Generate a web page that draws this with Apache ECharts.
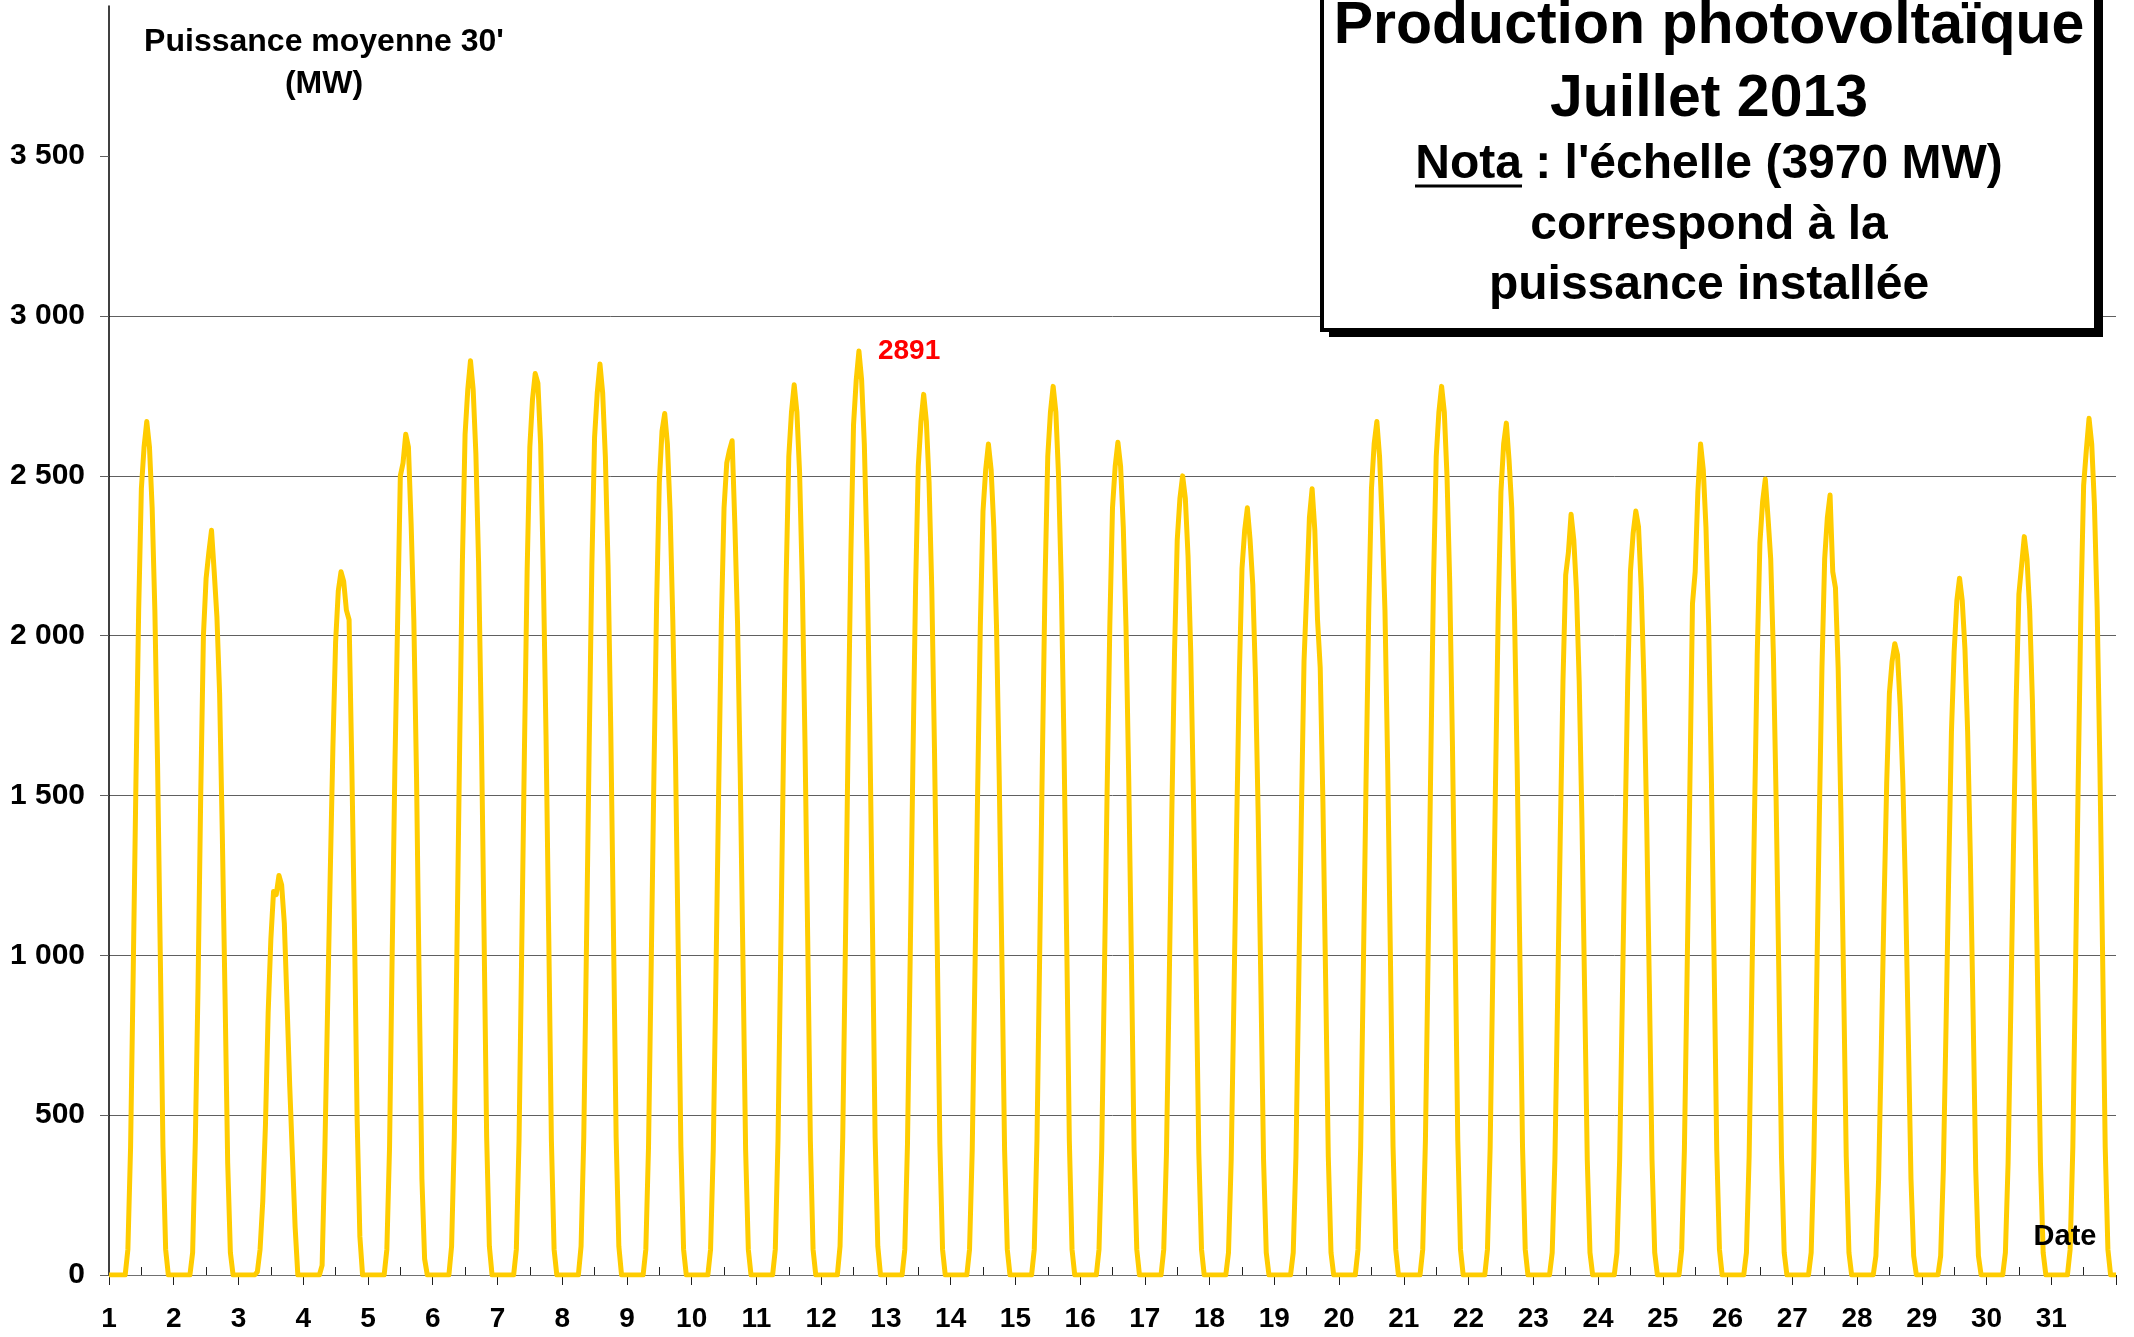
<!DOCTYPE html>
<html>
<head>
<meta charset="utf-8">
<title>Production photovoltaïque - Juillet 2013</title>
<script src="https://cdn.jsdelivr.net/npm/echarts@6/dist/echarts.min.js"></script>
<style>
  html, body { margin: 0; padding: 0; background: #fff; }
  #main { width: 2134px; height: 1337px; }
</style>
</head>
<body>
<div id="main"></div>
<script>
// jours du mois (axe des x)
var dayLabels = ['1','2','3','4','5','6','7','8','9','10','11','12','13','14','15','16',
  '17','18','19','20','21','22','23','24','25','26','27','28','29','30','31'];

// heures (puissance nulle à 6h et à 22h)
var hours = [7, 8, 9, 10, 11, 12, 13, 14, 15, 16, 17, 18, 19, 20, 21];
var firstZeroHour = 6;
var lastZeroHour = 22;

// puissance (MW) par jour, une valeur par heure ci-dessus
var powerMW = [
  [80, 400, 960, 1550, 2080, 2460, 2590, 2670, 2590, 2400, 2080, 1600, 1010, 400, 80],
  [70, 420, 900, 1500, 2000, 2180, 2260, 2330, 2200, 2060, 1820, 1380, 880, 350, 70],
  [10, 80, 230, 470, 820, 1050, 1200, 1190, 1250, 1220, 1100, 850, 590, 370, 150],
  [30, 380, 820, 1250, 1650, 1980, 2140, 2200, 2170, 2080, 2050, 1600, 1080, 480, 120],
  [80, 400, 1020, 1600, 2050, 2500, 2540, 2630, 2590, 2350, 2050, 1560, 900, 300, 50],
  [90, 430, 1030, 1660, 2230, 2630, 2770, 2860, 2770, 2570, 2230, 1720, 1090, 430, 90],
  [80, 420, 1020, 1640, 2200, 2590, 2740, 2820, 2790, 2600, 2200, 1690, 1070, 420, 80],
  [90, 430, 1030, 1650, 2220, 2620, 2760, 2850, 2760, 2560, 2220, 1710, 1080, 430, 90],
  [80, 400, 970, 1560, 2100, 2480, 2640, 2695, 2600, 2390, 2050, 1620, 1020, 400, 80],
  [80, 390, 940, 1510, 2040, 2400, 2540, 2580, 2610, 2350, 2040, 1570, 990, 390, 80],
  [80, 420, 1000, 1620, 2170, 2560, 2700, 2785, 2700, 2510, 2170, 1670, 1060, 420, 80],
  [90, 430, 1040, 1680, 2250, 2660, 2800, 2891, 2800, 2600, 2250, 1730, 1100, 430, 90],
  [80, 410, 990, 1600, 2150, 2530, 2670, 2755, 2670, 2480, 2150, 1650, 1050, 410, 80],
  [80, 390, 940, 1510, 2030, 2390, 2520, 2600, 2520, 2340, 2030, 1560, 990, 390, 80],
  [80, 420, 1000, 1610, 2170, 2560, 2700, 2780, 2700, 2500, 2170, 1670, 1060, 420, 80],
  [80, 390, 940, 1510, 2030, 2400, 2530, 2605, 2530, 2340, 2030, 1560, 990, 390, 80],
  [80, 380, 900, 1450, 1950, 2300, 2430, 2500, 2430, 2250, 1950, 1500, 950, 380, 80],
  [70, 360, 860, 1390, 1870, 2210, 2330, 2400, 2300, 2160, 1870, 1440, 910, 360, 70],
  [70, 370, 890, 1430, 1920, 2140, 2370, 2460, 2330, 2050, 1900, 1480, 930, 370, 70],
  [80, 400, 960, 1550, 2080, 2460, 2600, 2670, 2560, 2350, 2080, 1600, 1010, 400, 80],
  [80, 420, 1000, 1610, 2170, 2560, 2700, 2780, 2700, 2500, 2170, 1670, 1060, 420, 80],
  [80, 400, 960, 1550, 2080, 2450, 2600, 2665, 2550, 2400, 2080, 1600, 1010, 400, 80],
  [70, 360, 860, 1380, 1860, 2190, 2260, 2380, 2300, 2140, 1860, 1430, 900, 360, 70],
  [70, 360, 860, 1390, 1860, 2200, 2320, 2390, 2340, 2150, 1860, 1430, 910, 360, 70],
  [80, 390, 940, 1510, 2100, 2200, 2450, 2600, 2520, 2340, 2030, 1560, 990, 390, 80],
  [70, 370, 900, 1440, 1940, 2290, 2420, 2490, 2370, 2240, 1940, 1490, 950, 370, 70],
  [70, 370, 880, 1420, 1900, 2240, 2370, 2440, 2200, 2150, 1900, 1460, 930, 370, 70],
  [60, 300, 710, 1150, 1540, 1820, 1920, 1975, 1940, 1780, 1540, 1190, 750, 300, 60],
  [60, 330, 780, 1260, 1700, 1950, 2110, 2180, 2110, 1960, 1700, 1310, 830, 330, 60],
  [70, 350, 830, 1340, 1800, 2130, 2220, 2310, 2240, 2080, 1800, 1390, 880, 350, 70],
  [80, 400, 960, 1550, 2090, 2470, 2580, 2680, 2600, 2410, 2090, 1610, 1020, 400, 80]
];

// graduations de l'axe vertical, échelle = puissance installée
var yTicks = [0, 500, 1000, 1500, 2000, 2500, 3000, 3500];
var scaleMax = 3970;

var font = "'Liberation Sans', Arial, sans-serif";

// mise a plat : x = jour + heure/24
var points = [[1, 0]];
for (var d = 0; d < powerMW.length; d++) {
  var day = d + 1;
  points.push([day + firstZeroHour / 24, 0]);
  for (var i = 0; i < hours.length; i++) {
    points.push([day + hours[i] / 24, powerMW[d][i]]);
  }
  points.push([day + lastZeroHour / 24, 0]);
}
points.push([dayLabels.length + 1, 0]);

function fmtMW(v) {
  return String(v).replace(/\B(?=(\d{3})+(?!\d))/g, ' ');
}

var myChart = echarts.init(document.getElementById('main'));

var option = {
  animation: false,
  backgroundColor: '#fff',
  textStyle: { fontFamily: font },
  grid: {
    left: 109,
    right: 18,
    top: 6,
    bottom: 62,
    containLabel: false,
    outerBoundsMode: 'none'
  },
  xAxis: [{
    type: 'value',
    position: 'bottom',
    min: 1,
    max: dayLabels.length + 1,
    interval: 1,
    axisLine: { show: true, onZero: false, lineStyle: { color: '#707070', width: 1 } },
    axisTick: { show: true, length: 10, lineStyle: { color: '#222' } },
    axisLabel: {
      margin: 30,
      fontSize: 28,
      lineHeight: 28,
      fontWeight: 'bold',
      fontFamily: font,
      color: '#000',
      formatter: function (v) {
        return v <= dayLabels.length ? dayLabels[v - 1] : '';
      }
    },
    splitLine: { show: false }
  }, {
    // petites graduations a midi
    type: 'category',
    position: 'bottom',
    data: dayLabels,
    boundaryGap: true,
    axisLine: { show: false },
    axisTick: { show: true, interval: 0, alignWithLabel: true, inside: true, length: 8, lineStyle: { color: '#222' } },
    axisLabel: { show: false },
    splitLine: { show: false }
  }],
  yAxis: {
    type: 'value',
    min: 0,
    max: scaleMax,
    interval: 500,
    axisLine: { show: true, lineStyle: { color: '#000', width: 1.5 } },
    axisTick: { show: true, length: 9, customValues: yTicks, lineStyle: { color: '#606060' } },
    axisLabel: {
      customValues: yTicks,
      margin: 24,
      fontSize: 30,
      fontWeight: 'bold',
      fontFamily: font,
      color: '#000',
      formatter: fmtMW
    },
    splitLine: { show: true, showMaxLine: false, lineStyle: { color: '#606060', width: 1 } }
  },
  series: [{
    name: 'Puissance moyenne 30\'',
    type: 'line',
    xAxisIndex: 0,
    data: points,
    showSymbol: false,
    symbol: 'none',
    lineStyle: { color: '#FFCC00', width: 5, join: 'round' },
    itemStyle: { color: '#FFCC00' },
    markPoint: {
      symbol: 'circle',
      symbolSize: 2,
      itemStyle: { color: 'rgba(0,0,0,0)' },
      data: [{ type: 'max', valueDim: 'y' }],
      label: {
        show: true,
        position: 'right',
        distance: 18,
        color: '#FF0000',
        fontSize: 28,
        fontWeight: 'bold',
        fontFamily: font,
        formatter: '{c}'
      }
    }
  }],
  graphic: [
    {
      type: 'text', z: 100,
      style: { text: 'Puissance moyenne 30\'', x: 324, y: 42, align: 'center', verticalAlign: 'middle',
        fontSize: 32, fontWeight: 'bold', fontFamily: font, fill: '#000' }
    },
    {
      type: 'text', z: 100,
      style: { text: '(MW)', x: 324, y: 84, align: 'center', verticalAlign: 'middle',
        fontSize: 32, fontWeight: 'bold', fontFamily: font, fill: '#000' }
    },
    {
      type: 'text', z: 100,
      style: { text: 'Date', x: 2065, y: 1237, align: 'center', verticalAlign: 'middle',
        fontSize: 29, fontWeight: 'bold', fontFamily: font, fill: '#000' }
    },
    // cadre du titre avec ombre
    {
      type: 'rect', z: 100,
      shape: { x: 1329, y: -10, width: 774, height: 347 },
      style: { fill: '#000' }
    },
    {
      type: 'rect', z: 101,
      shape: { x: 1322, y: -10, width: 774, height: 340 },
      style: { fill: '#fff', stroke: '#000', lineWidth: 4 }
    },
    {
      type: 'text', z: 102,
      style: { text: 'Production photovoltaïque', x: 1709, y: 27, align: 'center', verticalAlign: 'middle',
        fontSize: 59, fontWeight: 'bold', fontFamily: font, fill: '#000' }
    },
    {
      type: 'text', z: 102,
      style: { text: 'Juillet 2013', x: 1709, y: 100, align: 'center', verticalAlign: 'middle',
        fontSize: 59, fontWeight: 'bold', fontFamily: font, fill: '#000' }
    },
    {
      type: 'text', z: 102,
      style: { text: 'Nota : l\'échelle (3970 MW)', x: 1709, y: 165, align: 'center', verticalAlign: 'middle',
        fontSize: 48, fontWeight: 'bold', fontFamily: font, fill: '#000' }
    },
    {
      type: 'line', z: 102,
      shape: { x1: 1415, y1: 186, x2: 1522, y2: 186 },
      style: { stroke: '#000', lineWidth: 3 }
    },
    {
      type: 'text', z: 102,
      style: { text: 'correspond à la', x: 1709, y: 226, align: 'center', verticalAlign: 'middle',
        fontSize: 48, fontWeight: 'bold', fontFamily: font, fill: '#000' }
    },
    {
      type: 'text', z: 102,
      style: { text: 'puissance installée', x: 1709, y: 286, align: 'center', verticalAlign: 'middle',
        fontSize: 48, fontWeight: 'bold', fontFamily: font, fill: '#000' }
    }
  ]
};

myChart.setOption(option);
window.onresize = myChart.resize;
</script>
</body>
</html>
